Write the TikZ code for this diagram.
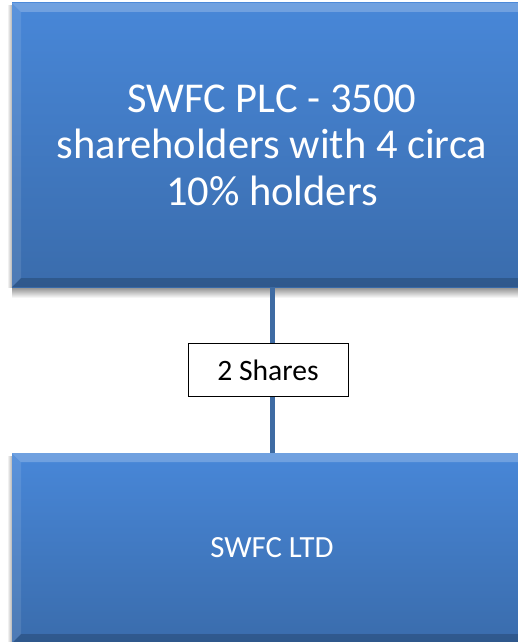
\documentclass[tikz,border=0pt]{standalone}
\usepackage{fontspec}
\setmainfont{Carlito}
\usetikzlibrary{positioning}

\definecolor{boxtop}{HTML}{4887D8}
\definecolor{boxbot}{HTML}{3A6CAC}
\definecolor{linkblue}{HTML}{3E6BA3}

\tikzset{
  entity/.style={rectangle, inner sep=0pt, text=white, align=center,
    top color=boxtop, bottom color=boxbot, minimum width=520pt,
    path picture={
      % bevel, top and left light, bottom dark
      \fill[white,opacity=.22] (path picture bounding box.north west) -- (path picture bounding box.north east)
        -- ([shift={(-9,9)}]path picture bounding box.north east) -- ([shift={(9,9)}]path picture bounding box.north west) -- cycle;
      \fill[white,opacity=.10] (path picture bounding box.north west) -- ([shift={(9,9)}]path picture bounding box.north west)
        -- ([shift={(9,-9)}]path picture bounding box.south west) -- (path picture bounding box.south west) -- cycle;
      \fill[black,opacity=.18] (path picture bounding box.south west) -- (path picture bounding box.south east)
        -- ([shift={(-9,-9)}]path picture bounding box.south east) -- ([shift={(9,-9)}]path picture bounding box.south west) -- cycle;
    }},
  sharebox/.style={rectangle, draw=black, line width=1pt, fill=white, minimum width=160pt,
    minimum height=53pt, inner sep=0pt, font=\fontsize{29.6}{35}\selectfont},
  link/.style={draw=linkblue, line width=5pt}
}

\begin{document}
\begin{tikzpicture}[x=1pt,y=-1pt]
  \useasboundingbox (0,0) rectangle (518,642);

  % Shadows
  \shade[top color=black!45, bottom color=white] (12,287) rectangle (532,298);
  \shade[left color=white, right color=black!30] (7,6) rectangle (12,287);
  \shade[left color=white, right color=black!30] (7,456) rectangle (12,642);

  % Parent company
  \node[entity, minimum height=284pt, font=\fontsize{42.5}{46.5}\selectfont] (plc) at (272,145)
    {SWFC PLC - 3500\\shareholders with 4 circa\\10\% holders};

  % Subsidiary
  \node[entity, minimum height=190pt, font=\fontsize{30.8}{36}\selectfont] (ltd) at (272,548)
    {SWFC LTD};

  % Link
  \draw[link] (plc.south) -- (ltd.north)
    node[sharebox, midway, xshift=-4pt] (shares) {2 Shares};
\end{tikzpicture}
\end{document}
